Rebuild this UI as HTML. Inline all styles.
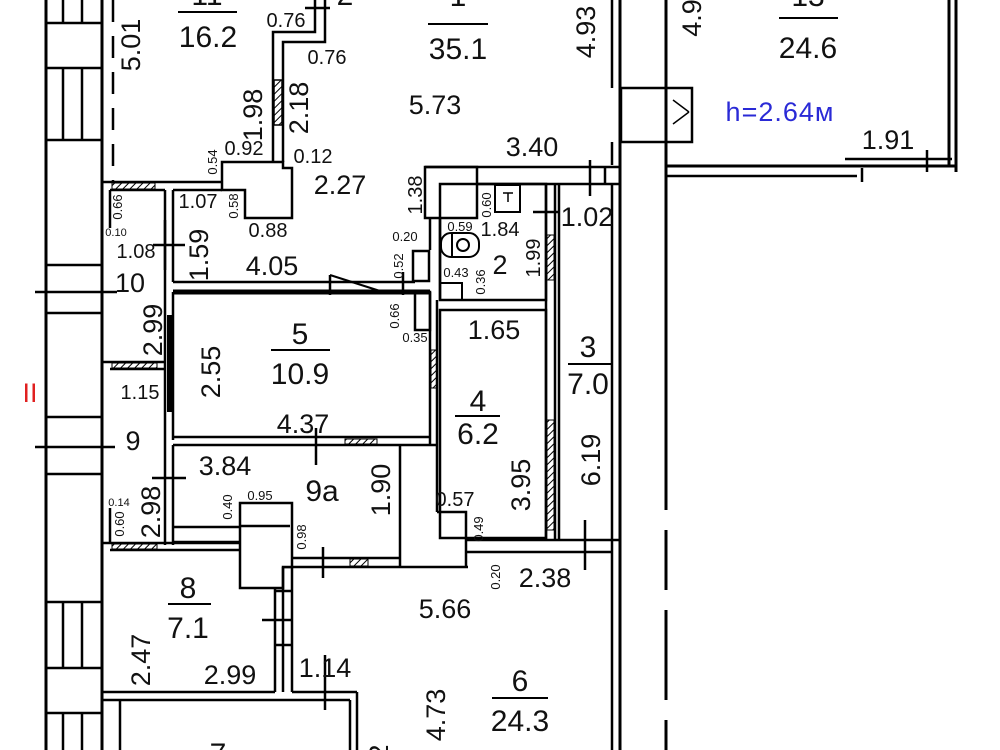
<!DOCTYPE html>
<html><head><meta charset="utf-8"><style>
html,body{margin:0;padding:0;background:#fff;}
svg{display:block}
text{font-family:"Liberation Sans",Arial,sans-serif;fill:#111;text-anchor:middle}
.s{font-size:13px}.m{font-size:20px}.l{font-size:27px}.xl{font-size:30px}
</style></head><body>
<svg width="1000" height="750" viewBox="0 0 1000 750" xmlns="http://www.w3.org/2000/svg">
<defs><pattern id="h" width="5" height="5" patternUnits="userSpaceOnUse" patternTransform="rotate(45)"><line x1="0" y1="0" x2="0" y2="5" stroke="#000" stroke-width="2"/></pattern></defs>
<g stroke="#000" stroke-width="2.5" fill="none">
<line x1="46" y1="0" x2="46" y2="750" stroke-width="3"/>
<line x1="102" y1="0" x2="102" y2="750" stroke-width="3"/>
<line x1="46" y1="23" x2="102" y2="23"/><line x1="46" y1="68" x2="102" y2="68"/><line x1="46" y1="140" x2="102" y2="140"/>
<line x1="63" y1="0" x2="63" y2="23"/><line x1="82" y1="0" x2="82" y2="23"/>
<line x1="63" y1="68" x2="63" y2="140"/><line x1="82" y1="68" x2="82" y2="140"/>
<line x1="46" y1="265" x2="102" y2="265"/><line x1="46" y1="313" x2="102" y2="313"/>
<line x1="46" y1="417" x2="102" y2="417"/><line x1="46" y1="474" x2="102" y2="474"/>
<line x1="46" y1="602" x2="102" y2="602"/><line x1="46" y1="668" x2="102" y2="668"/>
<line x1="63" y1="602" x2="63" y2="668"/><line x1="82" y1="602" x2="82" y2="668"/>
<line x1="46" y1="713" x2="102" y2="713"/>
<line x1="63" y1="713" x2="63" y2="750"/><line x1="82" y1="713" x2="82" y2="750"/>
<line x1="35" y1="292" x2="117" y2="292"/><line x1="35" y1="447" x2="115" y2="447"/>
<line x1="113" y1="0" x2="113" y2="182" stroke-dasharray="22,14"/>
<polyline points="273,162 273,32 315,32 315,0"/>
<polyline points="283,162 283,42 325,42 325,0"/>
<line x1="305" y1="8" x2="330" y2="8"/>
<rect x="274" y="80" width="8" height="45" fill="url(#h)" stroke-width="1.5"/>
<polygon points="222,162 283,162 283,168 292,168 292,218 245,218 245,190 222,190" fill="#fff"/>
<line x1="102" y1="182" x2="222" y2="182"/><line x1="110" y1="190" x2="165" y2="190"/>
<rect x="112" y="183" width="43" height="6" fill="url(#h)" stroke-width="1"/>
<line x1="110" y1="190" x2="110" y2="228"/>
<line x1="165" y1="190" x2="165" y2="545"/>
<line x1="173" y1="190" x2="173" y2="282"/><line x1="173" y1="190" x2="222" y2="190"/>
<line x1="173" y1="292" x2="173" y2="440"/>
<line x1="170" y1="315" x2="170" y2="412" stroke-width="6"/>
<polyline points="153,245 185,245"/><line x1="165" y1="220" x2="165" y2="270"/>
<line x1="102" y1="362" x2="165" y2="362"/><line x1="110" y1="369" x2="165" y2="369"/>
<rect x="112" y="363" width="45" height="5" fill="url(#h)" stroke-width="1"/>
<line x1="173" y1="282" x2="415" y2="282"/>
<line x1="173" y1="292" x2="430" y2="292" stroke-width="5"/>
<line x1="330" y1="275" x2="330" y2="295"/><line x1="403" y1="272" x2="403" y2="295"/>
<line x1="330" y1="275" x2="380" y2="291" stroke-width="2"/>
<rect x="425" y="167" width="52" height="51" fill="#fff"/>
<line x1="430" y1="218" x2="430" y2="250"/>
<rect x="413" y="251" width="16" height="30"/>
<rect x="415" y="292" width="15" height="38"/>
<line x1="430" y1="292" x2="430" y2="445"/><line x1="437" y1="300" x2="437" y2="512"/>
<line x1="440" y1="218" x2="440" y2="300"/>
<rect x="431" y="350" width="6" height="38" fill="url(#h)" stroke-width="1"/>
<line x1="173" y1="437" x2="430" y2="437"/><line x1="173" y1="445" x2="437" y2="445"/>
<rect x="345" y="439" width="32" height="5" fill="url(#h)" stroke-width="1"/>
<line x1="316" y1="428" x2="316" y2="465"/>
<line x1="173" y1="445" x2="173" y2="545"/>
<line x1="173" y1="527" x2="240" y2="527"/><line x1="173" y1="542" x2="240" y2="542"/>
<line x1="400" y1="445" x2="400" y2="567"/>
<polyline points="437,512 466,512 466,567"/>
<line x1="292" y1="558" x2="400" y2="558"/>
<line x1="283" y1="567" x2="468" y2="567"/>
<rect x="350" y="559" width="18" height="7" fill="url(#h)" stroke-width="1"/>
<line x1="323" y1="547" x2="323" y2="578"/>
<line x1="152" y1="478" x2="186" y2="478"/>
<polygon points="240,503 292,503 292,567 283,567 283,588 240,588" fill="#fff"/>
<line x1="240" y1="526" x2="290" y2="526"/>
<line x1="102" y1="543" x2="240" y2="543"/><line x1="110" y1="550" x2="240" y2="550"/>
<rect x="112" y="544" width="45" height="5" fill="url(#h)" stroke-width="1"/>
<line x1="110" y1="508" x2="110" y2="543"/>
<line x1="275" y1="588" x2="275" y2="692"/><line x1="283" y1="567" x2="283" y2="692"/><line x1="292" y1="567" x2="292" y2="692"/>
<line x1="262" y1="620" x2="292" y2="620"/><line x1="275" y1="591" x2="292" y2="591"/><line x1="275" y1="645" x2="292" y2="645"/>
<line x1="102" y1="692" x2="275" y2="692"/><line x1="102" y1="700" x2="350" y2="700"/>
<line x1="292" y1="692" x2="357" y2="692"/>
<line x1="350" y1="700" x2="350" y2="750"/><line x1="357" y1="692" x2="357" y2="750"/>
<line x1="120" y1="700" x2="120" y2="750"/>
<line x1="325" y1="655" x2="325" y2="710"/>
<line x1="425" y1="167" x2="620" y2="167"/><line x1="477" y1="184" x2="620" y2="184"/>
<line x1="590" y1="160" x2="590" y2="196"/><line x1="605" y1="167" x2="605" y2="184"/>
<rect x="440" y="184" width="106" height="116"/>
<rect x="495" y="185" width="25" height="27" stroke-width="2"/>
<line x1="503" y1="193" x2="513" y2="193" stroke-width="1.5"/><line x1="508" y1="193" x2="508" y2="202" stroke-width="1.5"/>
<rect x="441" y="233" width="38" height="24" rx="10" stroke-width="2"/>
<circle cx="463" cy="245" r="6" stroke-width="2"/>
<line x1="452" y1="233" x2="452" y2="257" stroke-width="2"/>
<rect x="440" y="283" width="22" height="17" stroke-width="2"/>
<line x1="533" y1="212" x2="558" y2="212"/>
<line x1="546" y1="184" x2="546" y2="540"/><line x1="555" y1="184" x2="555" y2="540"/><line x1="559" y1="184" x2="559" y2="540"/>
<rect x="547" y="235" width="7" height="45" fill="url(#h)" stroke-width="1"/>
<rect x="547" y="420" width="7" height="110" fill="url(#h)" stroke-width="1"/>
<rect x="440" y="310" width="106" height="228"/>
<line x1="467" y1="540" x2="620" y2="540"/><line x1="467" y1="552" x2="612" y2="552"/>
<line x1="585" y1="520" x2="585" y2="570"/>
<line x1="620" y1="0" x2="620" y2="750" stroke-width="3"/>
<line x1="612" y1="0" x2="612" y2="88"/><line x1="612" y1="142" x2="612" y2="165"/>
<line x1="612" y1="184" x2="612" y2="750"/>
<line x1="666" y1="0" x2="666" y2="420" stroke-width="3"/>
<line x1="666" y1="420" x2="666" y2="750" stroke-width="3" stroke-dasharray="90,20,60,20"/>
<rect x="621" y="88" width="71" height="54"/>
<line x1="673" y1="100" x2="689" y2="112" stroke-width="1.5"/><line x1="689" y1="112" x2="673" y2="124" stroke-width="1.5"/>
<line x1="666" y1="166" x2="955" y2="166" stroke-width="3"/>
<line x1="666" y1="176" x2="857" y2="176"/>
<line x1="845" y1="159" x2="952" y2="159"/>
<line x1="862" y1="168" x2="862" y2="182"/><line x1="927" y1="150" x2="927" y2="172"/>
<line x1="949" y1="0" x2="949" y2="166" stroke-width="3"/><line x1="956" y1="0" x2="956" y2="172" stroke-width="3"/>
<line x1="178" y1="12" x2="237" y2="12" stroke-width="2"/>
<line x1="428" y1="24" x2="488" y2="24" stroke-width="2"/>
<line x1="779" y1="18" x2="838" y2="18" stroke-width="2"/>
<line x1="271" y1="350" x2="330" y2="350" stroke-width="2"/>
<line x1="568" y1="364" x2="612" y2="364" stroke-width="2"/>
<line x1="455" y1="416" x2="500" y2="416" stroke-width="2"/>
<line x1="168" y1="604" x2="211" y2="604" stroke-width="2"/>
<line x1="492" y1="698" x2="548" y2="698" stroke-width="2"/>
</g>
<text class="xl" x="207" y="5">11</text>
<text class="xl" x="208" y="47">16.2</text>
<text class="l" transform="translate(140,45) rotate(-90)">5.01</text>
<text class="m" x="286" y="27">0.76</text>
<text class="m" x="327" y="64">0.76</text>
<text class="xl" x="345" y="5">2</text>
<text class="xl" x="458" y="6">1</text>
<text class="xl" x="458" y="59">35.1</text>
<text class="l" transform="translate(595,32) rotate(-90)">4.93</text>
<text class="l" transform="translate(701,18) rotate(-90)">4.9</text>
<text class="xl" x="808" y="6">13</text>
<text class="xl" x="808" y="58">24.6</text>
<text class="l" x="435" y="114">5.73</text>
<text class="l" transform="translate(262,115) rotate(-90)">1.98</text>
<text class="l" transform="translate(308,108) rotate(-90)">2.18</text>
<text class="l" x="780" y="121" style="fill:#2a2ad6;letter-spacing:1px">h=2.64м</text>
<text class="l" x="888" y="149">1.91</text>
<text class="l" x="532" y="156">3.40</text>
<text class="m" x="244" y="155">0.92</text>
<text class="s" transform="translate(217,162) rotate(-90)">0.54</text>
<text class="m" x="313" y="163">0.12</text>
<text class="l" x="340" y="194">2.27</text>
<text class="m" transform="translate(422,195) rotate(-90)">1.38</text>
<text class="s" transform="translate(122,207) rotate(-90)">0.66</text>
<text class="s" x="116" y="236" style="font-size:11px">0.10</text>
<text class="m" x="198" y="208">1.07</text>
<text class="s" transform="translate(238,206) rotate(-90)">0.58</text>
<text class="m" x="268" y="237">0.88</text>
<text class="m" x="136" y="258">1.08</text>
<text class="l" transform="translate(208,255) rotate(-90)">1.59</text>
<text class="l" x="272" y="275">4.05</text>
<text class="l" x="130" y="292">10</text>
<text class="l" transform="translate(162,330) rotate(-90)">2.99</text>
<text class="s" x="405" y="241">0.20</text>
<text class="s" transform="translate(403,266) rotate(-90)">0.52</text>
<text class="s" transform="translate(399,316) rotate(-90)">0.66</text>
<text class="s" x="415" y="342">0.35</text>
<text class="s" transform="translate(491,205) rotate(-90)">0.60</text>
<text class="s" x="460" y="231">0.59</text>
<text class="m" x="500" y="236">1.84</text>
<text class="l" x="500" y="274">2</text>
<text class="s" x="456" y="277">0.43</text>
<text class="s" transform="translate(485,282) rotate(-90)">0.36</text>
<text class="m" transform="translate(540,258) rotate(-90)">1.99</text>
<text class="l" x="587" y="226">1.02</text>
<text class="l" x="494" y="339">1.65</text>
<text class="xl" x="588" y="357">3</text>
<text class="xl" x="588" y="394">7.0</text>
<text class="xl" x="300" y="344">5</text>
<text class="xl" x="300" y="384">10.9</text>
<text class="l" transform="translate(220,372) rotate(-90)">2.55</text>
<text class="l" x="30" y="402" style="fill:#e02020">II</text>
<text class="m" x="140" y="399">1.15</text>
<text class="l" x="303" y="433">4.37</text>
<text class="xl" x="478" y="411">4</text>
<text class="xl" x="478" y="444">6.2</text>
<text class="l" x="133" y="450">9</text>
<text class="l" x="225" y="475">3.84</text>
<text class="xl" x="322" y="501">9a</text>
<text class="l" transform="translate(390,490) rotate(-90)">1.90</text>
<text class="l" transform="translate(160,512) rotate(-90)">2.98</text>
<text class="s" x="119" y="506" style="font-size:11px">0.14</text>
<text class="s" transform="translate(124,524) rotate(-90)">0.60</text>
<text class="s" transform="translate(232,507) rotate(-90)">0.40</text>
<text class="s" x="260" y="500">0.95</text>
<text class="s" transform="translate(306,537) rotate(-90)">0.98</text>
<text class="l" transform="translate(530,485) rotate(-90)">3.95</text>
<text class="l" transform="translate(600,460) rotate(-90)">6.19</text>
<text class="m" x="455" y="506">0.57</text>
<text class="s" transform="translate(483,529) rotate(-90)">0.49</text>
<text class="s" transform="translate(500,577) rotate(-90)">0.20</text>
<text class="l" x="545" y="587">2.38</text>
<text class="l" x="445" y="618">5.66</text>
<text class="xl" x="188" y="598">8</text>
<text class="xl" x="188" y="638">7.1</text>
<text class="l" transform="translate(150,660) rotate(-90)">2.47</text>
<text class="l" x="230" y="684">2.99</text>
<text class="l" x="325" y="677">1.14</text>
<text class="l" transform="translate(445,715) rotate(-90)">4.73</text>
<text class="xl" x="520" y="691">6</text>
<text class="xl" x="520" y="731">24.3</text>
<text class="xl" x="218" y="764">7</text>
<text class="l" transform="translate(388,752) rotate(-90)">2</text>
</svg>
</body></html>
